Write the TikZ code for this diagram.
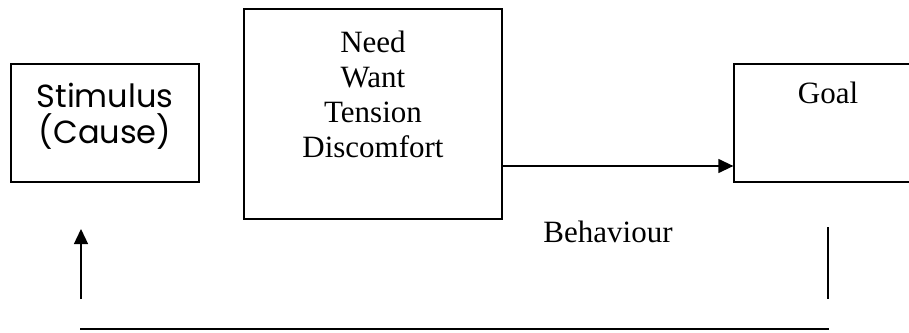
\documentclass[tikz,border=0pt]{standalone}
\usepackage{fontspec}
\setmainfont{Liberation Serif}
\newfontfamily\gothic{Poppins}
\usetikzlibrary{arrows.meta, positioning, calc}

\begin{document}
\begin{tikzpicture}[
  x=1pt, y=-1pt,
  box/.style={draw, line width=1.3pt, inner sep=0pt, align=center},
  boxtext/.style={anchor=north, inner sep=0pt, align=center, font=\fontsize{31}{35}\selectfont},
  arrow/.style={-{Triangle[length=15pt, width=14pt]}, line width=1.3pt},
  link/.style={line width=1.3pt}
]
  \clip (0,0) rectangle (909,332);

  \node[box, minimum width=188pt, minimum height=118pt, text depth=20pt,
        font=\gothic\fontsize{32}{36}\selectfont] (stimulus) at (105,123) {Stimulus\\(Cause)};
  \node[box, minimum width=258pt, minimum height=210pt,
        label={[boxtext, yshift=-22pt]north:Need\\Want\\Tension\\Discomfort}] (need) at (373,114) {};
  \node[box, minimum width=200pt, minimum height=118pt,
        label={[boxtext, xshift=-6pt, yshift=-18pt]north:Goal}] (goal) at (834,123) {};

  \draw[arrow] ([yshift=-52pt]need.east) -- ([yshift=-52pt]need.east -| goal.west);

  \node[anchor=base, inner sep=0pt, font=\fontsize{31}{35}\selectfont] (behaviour) at (608,242) {Behaviour};

  % feedback loop
  \coordinate (riseFoot) at (81,299);
  \coordinate (riseTop) at (81,229);
  \coordinate (dropTop) at (828,227);
  \coordinate (dropFoot) at (828,299);
  \coordinate (baseL) at (80,329);
  \coordinate (baseR) at (829,329);

  \draw[arrow] (riseFoot) -- (riseTop);
  \draw[link] (dropTop) -- (dropFoot);
  \draw[link] (baseL) -- (baseR);
\end{tikzpicture}
\end{document}
